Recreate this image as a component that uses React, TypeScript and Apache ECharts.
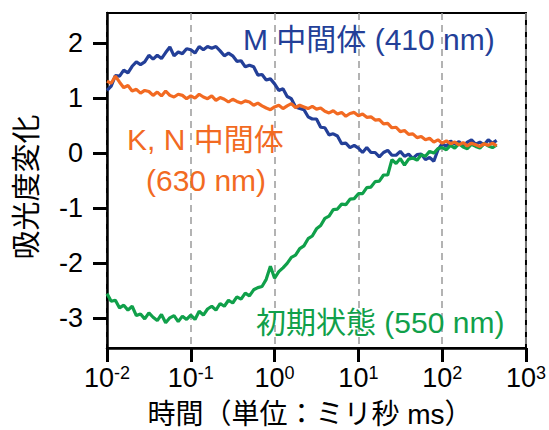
import React, { useEffect, useRef } from "react";
import * as echarts from "echarts";

// sample times, as log10(ms)
const logTime = [
  -2.0, -1.95, -1.9, -1.85, -1.8, -1.75, -1.7, -1.65, -1.6, -1.55,
  -1.5, -1.45, -1.4, -1.35, -1.3, -1.25, -1.2, -1.15, -1.1, -1.05,
  -1.0, -0.95, -0.9, -0.85, -0.8, -0.75, -0.7, -0.65, -0.6, -0.55,
  -0.5, -0.45, -0.4, -0.35, -0.3, -0.25, -0.2, -0.15, -0.1, -0.05,
  0.0, 0.05, 0.1, 0.15, 0.2, 0.25, 0.3, 0.35, 0.4, 0.45,
  0.5, 0.55, 0.6, 0.65, 0.7, 0.75, 0.8, 0.85, 0.9, 0.95,
  1.0, 1.05, 1.1, 1.15, 1.2, 1.25, 1.3, 1.35, 1.4, 1.45,
  1.5, 1.55, 1.6, 1.65, 1.7, 1.75, 1.8, 1.85, 1.9, 1.95,
  2.0, 2.05, 2.1, 2.15, 2.2, 2.25, 2.3, 2.35, 2.4, 2.45,
  2.5, 2.55, 2.6, 2.65,
];

// M intermediate (410 nm)
const mValues = [
  1.14, 1.22, 1.41, 1.40, 1.51, 1.46, 1.58, 1.66, 1.61, 1.66,
  1.78, 1.71, 1.78, 1.72, 1.83, 1.93, 1.77, 1.84, 1.81, 1.90,
  1.88, 1.82, 1.94, 1.88, 1.94, 1.91, 1.94, 1.86, 1.77, 1.82,
  1.77, 1.67, 1.68, 1.57, 1.60, 1.57, 1.42, 1.43, 1.33, 1.35,
  1.26, 1.14, 1.17, 1.03, 0.99, 0.84, 0.81, 0.79, 0.66, 0.62,
  0.62, 0.47, 0.46, 0.33, 0.35, 0.31, 0.17, 0.18, 0.10, 0.14,
  0.09, 0.01, 0.10, 0.01, 0.01, -0.07, 0.01, 0.05, -0.04, -0.04,
  0.03, -0.06, -0.02, -0.10, -0.03, -0.02, -0.12, -0.08, -0.15, 0.06,
  0.17, 0.12, 0.22, 0.16, 0.21, 0.13, 0.20, 0.24, 0.16, 0.20,
  0.15, 0.24, 0.18, 0.23,
];

// K, N intermediate (630 nm)
const knValues = [
  1.31, 1.27, 1.40, 1.29, 1.19, 1.23, 1.13, 1.16, 1.09, 1.14,
  1.12, 1.05, 1.11, 1.04, 1.13, 1.05, 1.02, 1.07, 1.05, 0.99,
  1.04, 1.00, 1.07, 1.02, 0.99, 1.04, 0.96, 1.01, 0.98, 0.93,
  0.98, 0.94, 0.91, 0.95, 0.93, 0.87, 0.91, 0.86, 0.82, 0.79,
  0.84, 0.87, 0.81, 0.86, 0.90, 0.83, 0.87, 0.84, 0.81, 0.85,
  0.80, 0.82, 0.76, 0.73, 0.77, 0.71, 0.74, 0.67, 0.72, 0.74,
  0.68, 0.71, 0.65, 0.66, 0.60, 0.61, 0.53, 0.54, 0.46, 0.47,
  0.39, 0.41, 0.34, 0.35, 0.28, 0.30, 0.24, 0.27, 0.20, 0.24,
  0.18, 0.22, 0.17, 0.20, 0.15, 0.19, 0.13, 0.18, 0.15, 0.12,
  0.17, 0.14, 0.18, 0.13,
];

// initial state (550 nm)
const initValues = [
  -2.56, -2.70, -2.68, -2.82, -2.77, -2.86, -2.79, -2.96, -2.93, -3.02,
  -2.91, -2.99, -3.05, -2.94, -3.09, -3.00, -2.96, -3.07, -2.97, -3.03,
  -2.95, -3.03, -2.88, -2.95, -2.84, -2.79, -2.86, -2.74, -2.79, -2.68,
  -2.73, -2.62, -2.66, -2.55, -2.60, -2.49, -2.45, -2.43, -2.30, -2.06,
  -2.28, -2.16, -2.09, -2.01, -1.90, -1.86, -1.74, -1.69, -1.56, -1.51,
  -1.38, -1.32, -1.19, -1.15, -1.03, -1.02, -0.93, -0.94, -0.84, -0.83,
  -0.74, -0.74, -0.63, -0.62, -0.52, -0.51, -0.40, -0.40, -0.12, -0.19,
  -0.10, -0.22, -0.11, -0.09, -0.13, -0.03, -0.06, 0.03, 0.00, 0.08,
  0.10, 0.06, 0.14, 0.09, 0.17, 0.11, 0.08, 0.16, 0.12, 0.09,
  0.17, 0.13, 0.10, 0.15,
];

const yTicks = [-3, -2, -1, 0, 1, 2];

const LATIN = '"Liberation Sans", "Noto Sans CJK JP", sans-serif';
const BLUE = "#233f98";
const ORANGE = "#f26a22";
const GREEN = "#10a04a";

const pairs = (vals: number[]) => logTime.map((e, i) => [Math.pow(10, e), vals[i]]);

export default function App() {
  const ref = useRef<HTMLDivElement>(null);
  useEffect(() => {
    if (!ref.current) return;
    const chart = echarts.init(ref.current, undefined, { renderer: "svg" });
    chart.setOption({
      animation: false,
      backgroundColor: "#fff",
      grid: {
        left: 107,
        right: 22,
        top: 13,
        bottom: 82,
        show: true,
        borderColor: "#000",
        borderWidth: 2,
        backgroundColor: "transparent",
      },
      xAxis: {
        type: "log",
        logBase: 10,
        min: 0.01,
        max: 1000,
        axisLine: { show: true, onZero: false, lineStyle: { color: "#000", width: 2.5 } },
        axisTick: { show: true, inside: false, length: 14, lineStyle: { color: "#000", width: 3 } },
        minorTick: { show: false },
        splitLine: { show: true, lineStyle: { color: "#9a9a9a", width: 1.5, type: [7, 5] } },
        axisLabel: {
          margin: 16,
          color: "#000",
          formatter: (v: number) => `{b|10}{s|${Math.round(Math.log10(v))}}`,
          rich: {
            b: { fontSize: 27, fontFamily: LATIN, color: "#000", verticalAlign: "top", lineHeight: 30 },
            s: { fontSize: 18, fontFamily: LATIN, color: "#000", verticalAlign: "top", lineHeight: 20 },
          },
        },
      },
      yAxis: {
        type: "value",
        min: -3.55,
        max: 2.55,
        axisLine: { show: true, lineStyle: { color: "#000", width: 2.5 } },
        axisTick: {
          show: true,
          length: 14,
          customValues: yTicks,
          lineStyle: { color: "#000", width: 3 },
        },
        splitLine: { show: false },
        axisLabel: {
          margin: 24,
          customValues: yTicks,
          fontSize: 27,
          fontFamily: LATIN,
          color: "#000",
          formatter: (v: number) => `${v}`,
        },
      },
      series: [
        {
          type: "line",
          data: pairs(mValues),
          showSymbol: false,
          lineStyle: { color: BLUE, width: 3.2 },
          z: 2,
        },
        {
          type: "line",
          data: pairs(initValues),
          showSymbol: false,
          lineStyle: { color: GREEN, width: 3.2 },
          z: 3,
        },
        {
          type: "line",
          data: pairs(knValues),
          showSymbol: false,
          lineStyle: { color: ORANGE, width: 3.2 },
          z: 4,
        },
      ],
      graphic: [
        {
          type: "text",
          x: 243,
          y: 39,
          z: 10,
          style: { text: "M 中間体 (410 nm)", fontSize: 30, fontFamily: LATIN, fill: BLUE, textAlign: "left", textVerticalAlign: "middle" },
        },
        {
          type: "text",
          x: 127,
          y: 139,
          z: 10,
          style: { text: "K, N 中間体", fontSize: 30, fontFamily: LATIN, fill: ORANGE, textAlign: "left", textVerticalAlign: "middle" },
        },
        {
          type: "text",
          x: 146,
          y: 180,
          z: 10,
          style: { text: "(630 nm)", fontSize: 30, fontFamily: LATIN, fill: ORANGE, textAlign: "left", textVerticalAlign: "middle" },
        },
        {
          type: "text",
          x: 256,
          y: 322,
          z: 10,
          style: { text: "初期状態 (550 nm)", fontSize: 30, fontFamily: LATIN, fill: GREEN, textAlign: "left", textVerticalAlign: "middle" },
        },
        {
          type: "text",
          x: 310,
          y: 414,
          z: 10,
          style: { text: "時間（単位：ミリ秒 ms）", fontSize: 28, fontFamily: LATIN, fill: "#000", textAlign: "center", textVerticalAlign: "middle" },
        },
        {
          type: "text",
          x: 27,
          y: 187,
          rotation: Math.PI / 2,
          z: 10,
          style: { text: "吸光度変化", fontSize: 29, fontFamily: LATIN, fill: "#000", textAlign: "center", textVerticalAlign: "middle" },
        },
      ],
    });
    return () => chart.dispose();
  }, []);
  return (
    <div
      ref={ref}
      style={{ position: "absolute", left: 0, top: 0, width: 549, height: 430 }}
    />
  );
}
